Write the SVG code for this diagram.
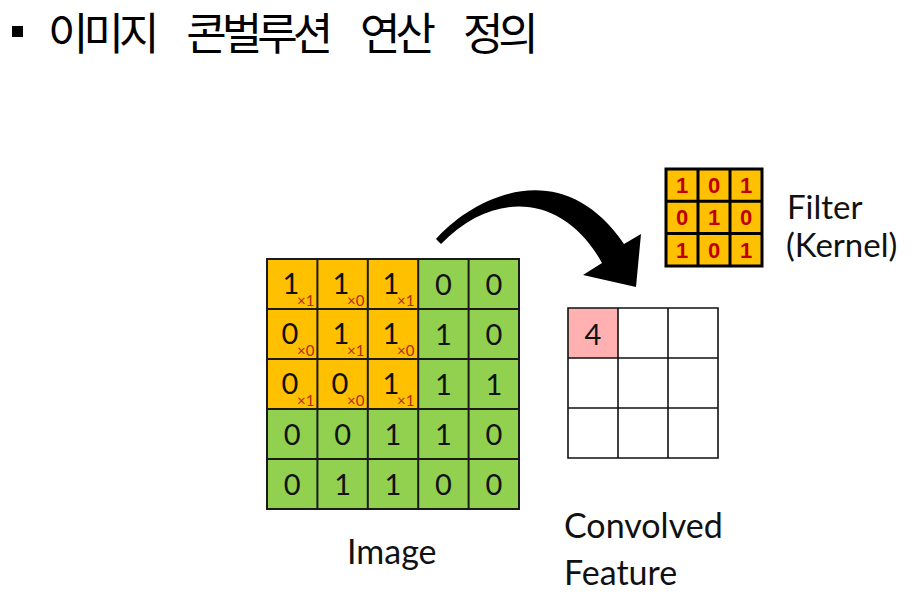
<svg xmlns="http://www.w3.org/2000/svg" width="912" height="607" viewBox="0 0 912 607">
<style>
.title{font-family:"Noto Sans CJK KR","Noto Sans",sans-serif;font-size:44px;fill:#000;letter-spacing:-5px;word-spacing:27px}
.lbl{font-family:Lato,"Open Sans",sans-serif;font-size:34px;fill:#111}
.lbs{font-family:Lato,"Open Sans",sans-serif;font-size:33px;fill:#111}
.dig{font-family:Lato,"Open Sans",sans-serif;font-size:29px;fill:#111;text-anchor:middle}
.sub{font-family:Lato,"Open Sans",sans-serif;font-size:15px;fill:#b5281c}
.kd{font-family:"Liberation Sans",Arial,sans-serif;font-size:22px;font-weight:bold;fill:#c00000;text-anchor:middle}
.og{fill:#ffc000}
.gr{fill:#92d050}
.gl{stroke:#1a1a1a;stroke-width:2;fill:none}
.kl{stroke:#000;stroke-width:3;fill:none}
.cl{stroke:#111;stroke-width:1.6;fill:none}
</style>
<g id="title">
<rect x="12" y="26" width="11" height="11" fill="#000"/>
<text class="title" x="48" y="50">이미지 콘벌루션 연산 정의</text>
</g>
<g id="image">
<rect class="gr" x="267" y="259" width="252" height="250"/>
<rect class="og" x="267" y="259" width="151" height="150"/>
<path class="gl" d="M267,259H519V509H267Z M317.4,259V509 M367.8,259V509 M418.2,259V509 M468.6,259V509 M267,309H519 M267,359H519 M267,409H519 M267,459H519"/>
<g class="dig">
<text x="291" y="294">1</text><text x="341" y="294">1</text><text x="391" y="294">1</text><text x="443.4" y="295">0</text><text x="493.8" y="295">0</text>
<text x="290" y="344">0</text><text x="341" y="344">1</text><text x="391" y="344">1</text><text x="443.4" y="345">1</text><text x="493.8" y="345">0</text>
<text x="290" y="394">0</text><text x="340" y="394">0</text><text x="391" y="394">1</text><text x="443.4" y="395">1</text><text x="493.8" y="395">1</text>
<text x="292.2" y="445">0</text><text x="342.6" y="445">0</text><text x="393" y="445">1</text><text x="443.4" y="445">1</text><text x="493.8" y="445">0</text>
<text x="292.2" y="495">0</text><text x="342.6" y="495">1</text><text x="393" y="495">1</text><text x="443.4" y="495">0</text><text x="493.8" y="495">0</text>
</g>
<g class="sub">
<text x="297" y="306">×1</text><text x="347" y="306">×0</text><text x="397" y="306">×1</text>
<text x="297" y="356">×0</text><text x="347" y="356">×1</text><text x="397" y="356">×0</text>
<text x="297" y="406">×1</text><text x="347" y="406">×0</text><text x="397" y="406">×1</text>
</g>
<text class="lbl" x="347" y="564">Image</text>
</g>
<g id="filter">
<rect class="og" x="666" y="169" width="96" height="97"/>
<path class="kl" d="M666,169H762V266H666Z M698,169V266 M730,169V266 M666,201.3H762 M666,233.6H762"/>
<g class="kd">
<text x="682" y="193">1</text><text x="714" y="193">0</text><text x="746" y="193">1</text>
<text x="682" y="225">0</text><text x="714" y="225">1</text><text x="746" y="225">0</text>
<text x="682" y="258">1</text><text x="714" y="258">0</text><text x="746" y="258">1</text>
</g>
<text class="lbs" x="787" y="219">Filter</text>
<text class="lbs" x="786" y="257">(Kernel)</text>
</g>
<g id="feature">
<rect x="568" y="308" width="50" height="50" fill="#ffb0b0"/>
<path class="cl" d="M568,308H718V458H568Z M618,308V458 M668,308V458 M568,358H718 M568,408H718"/>
<text class="dig" x="593" y="345">4</text>
<text class="lbl" x="564" y="538">Convolved</text>
<text class="lbl" x="564" y="585">Feature</text>
</g>
<g id="connectors">
<path d="M436,239 C470,200 560,150 624,244 L641,234 L636,287 L583,275 L602,263 C565,195 495,188 441,244 Z" fill="#000"/>
</g>
</svg>
